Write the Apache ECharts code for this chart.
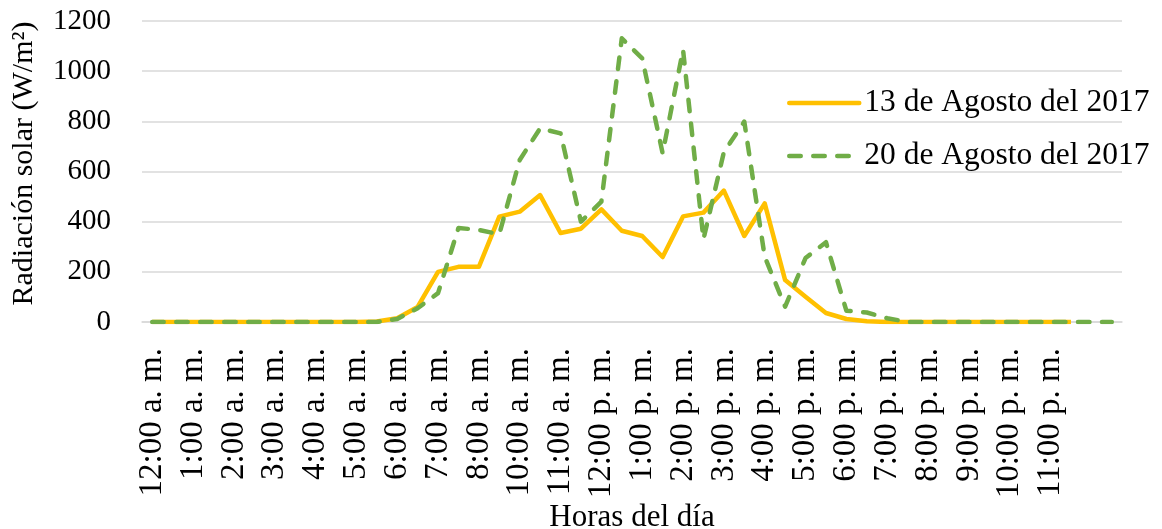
<!DOCTYPE html>
<html>
<head>
<meta charset="utf-8">
<title>Radiación solar</title>
<script src="https://cdn.jsdelivr.net/npm/echarts@6/dist/echarts.min.js"></script>
<style>
  html, body { margin: 0; padding: 0; background: #fff; }
  #chart { width: 1162px; height: 529px; }
</style>
</head>
<body>
<div id="chart"></div>
<script>
// etiquetas de hora que se ven en el eje (una cada dos categorias)
const etiquetasHora = ['12:00 a. m.', '1:00 a. m.', '2:00 a. m.', '3:00 a. m.', '4:00 a. m.', '5:00 a. m.',
  '6:00 a. m.', '7:00 a. m.', '8:00 a. m.', '10:00 a. m.', '11:00 a. m.', '12:00 p. m.', '1:00 p. m.',
  '2:00 p. m.', '3:00 p. m.', '4:00 p. m.', '5:00 p. m.', '6:00 p. m.', '7:00 p. m.', '8:00 p. m.',
  '9:00 p. m.', '10:00 p. m.', '11:00 p. m.'];

const numCategorias = 48;

// W/m2, lecturas cada media hora
const agosto13 = [0, 0, 0, 0, 0, 0, 0, 0, 0, 0, 0, 2, 15, 60, 200, 220, 220, 420, 440, 506,
  355, 372, 449, 364, 343, 259, 421, 436, 524, 343, 473, 167, 101, 36, 12, 3,
  0, 0, 0, 0, 0, 0, 0, 0, 0, 0];

const agosto20 = [0, 0, 0, 0, 0, 0, 0, 0, 0, 0, 0, 0, 12, 55, 115, 375, 367, 350, 646, 772,
  752, 400, 480, 1131, 1051, 673, 1085, 330, 677, 799, 260, 61, 255, 318, 45, 38,
  15, 0, 0, 0, 0, 0, 0, 0, 0, 0, 0, 0];

const categorias = [];
for (var i = 0; i < numCategorias; i++) {
  categorias.push(i % 2 === 0 && etiquetasHora[i / 2] ? etiquetasHora[i / 2] : '');
}

const fuente = '"Liberation Serif", "Times New Roman", serif';

var chart = echarts.init(document.getElementById('chart'));

chart.setOption({
  animation: false,
  textStyle: { fontFamily: fuente, color: '#000' },
  grid: { left: 142, right: 40, top: 21, bottom: 207, containLabel: false, outerBoundsMode: 'none' },
  legend: {
    orient: 'vertical',
    left: 782,
    top: 82,
    itemWidth: 70,
    itemHeight: 14,
    itemGap: 21,
    itemStyle: { opacity: 0 },
    lineStyle: { width: 4.5, cap: 'round' },
    textStyle: { fontFamily: fuente, fontSize: 31.5, color: '#000', lineHeight: 32 },
    data: ['13 de Agosto del 2017', '20 de Agosto del 2017']
  },
  xAxis: {
    type: 'category',
    data: categorias,
    boundaryGap: true,
    name: 'Horas del día',
    nameLocation: 'middle',
    nameGap: 180,
    nameMoveOverlap: false,
    nameTextStyle: { fontFamily: fuente, fontSize: 31, color: '#000' },
    axisLine: { show: true, lineStyle: { color: '#D9D9D9', width: 1.5 } },
    axisTick: { show: false },
    axisLabel: {
      interval: 0,
      rotate: 90,
      margin: 26,
      fontFamily: fuente,
      fontSize: 33,
      color: '#000'
    }
  },
  yAxis: {
    type: 'value',
    min: 0,
    max: 1200,
    interval: 200,
    name: 'Radiación solar (W/m²)',
    nameLocation: 'middle',
    nameGap: 103,
    nameMoveOverlap: false,
    nameTextStyle: { fontFamily: fuente, fontSize: 30, color: '#000', padding: [0, 0, 0, 16] },
    axisLine: { show: false },
    axisTick: { show: false },
    axisLabel: {
      margin: 31,
      fontFamily: fuente,
      fontSize: 29,
      color: '#000',
      formatter: function (v) { return String(v); }
    },
    splitLine: { lineStyle: { color: '#D9D9D9', width: 1.5 } }
  },
  series: [
    {
      name: '13 de Agosto del 2017',
      type: 'line',
      data: agosto13,
      symbol: 'none',
      color: '#FFC000',
      lineStyle: { color: '#FFC000', width: 4.5, join: 'round' }
    },
    {
      name: '20 de Agosto del 2017',
      type: 'line',
      data: agosto20,
      symbol: 'none',
      color: '#70AD47',
      lineStyle: { color: '#70AD47', width: 4.5, type: [11.5, 12.5], cap: 'round', join: 'round' }
    }
  ]
});
</script>
</body>
</html>
